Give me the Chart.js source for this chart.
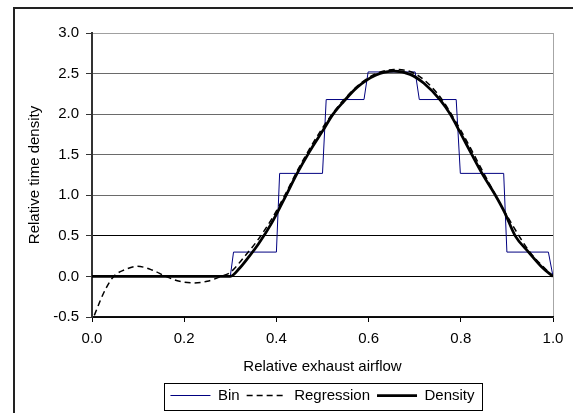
<!DOCTYPE html>
<html>
<head>
<meta charset="utf-8">
<script src="https://cdn.jsdelivr.net/npm/chart.js@4.4.0/dist/chart.umd.min.js"></script>
<style>
body { margin: 0; background: #fff; }
#frame { position: absolute; left: 13px; top: 7px; width: 600px; height: 450px; border-left: 2px solid #222; border-top: 2px solid #222; }
#myChart { position: absolute; left: 0; top: 0; }
</style>
</head>
<body>
<div id="frame"></div>
<canvas id="myChart" width="573" height="413"></canvas>
<script>
// step histogram (bins of 0.1)
var binX = [0, 0.300, 0.307, 0.400, 0.407, 0.500, 0.508, 0.590, 0.599, 0.701, 0.710, 0.790, 0.799, 0.893, 0.900, 0.990, 1.000];
var binY = [0, 0, 0.30, 0.30, 1.27, 1.27, 2.18, 2.18, 2.52, 2.52, 2.18, 2.18, 1.27, 1.27, 0.30, 0.30, 0];

// polynomial regression (dashed)
var regX = [0.005, 0.02, 0.03, 0.047, 0.07, 0.098, 0.13, 0.16, 0.19, 0.22, 0.25, 0.28, 0.30, 0.33, 0.361, 0.39, 0.421, 0.445, 0.50, 0.545, 0.60, 0.655, 0.70, 0.75, 0.80, 0.85, 0.90, 0.95, 1.0];
var regY = [-0.48, -0.27, -0.15, 0.0, 0.08, 0.125, 0.08, 0.0, -0.06, -0.08, -0.06, 0.0, 0.05, 0.24, 0.46, 0.71, 1.03, 1.3, 1.83, 2.17, 2.45, 2.55, 2.5, 2.25, 1.8, 1.27, 0.75, 0.3, 0.0];

// density curve
var denX = [0, 0.30, 0.32, 0.34, 0.361, 0.39, 0.421, 0.445, 0.47, 0.501, 0.523, 0.545, 0.575, 0.615, 0.655, 0.69, 0.72, 0.756, 0.777, 0.80, 0.824, 0.846, 0.875, 0.895, 0.918, 0.947, 0.975, 1.0];
var denY = [0, 0, 0.10, 0.24, 0.40, 0.66, 1.00, 1.27, 1.52, 1.80, 2.00, 2.15, 2.33, 2.48, 2.53, 2.49, 2.38, 2.17, 2.00, 1.76, 1.50, 1.27, 1.00, 0.79, 0.50, 0.30, 0.12, 0];

var seriesNames = ['Bin', 'Regression', 'Density'];
var xTitle = 'Relative exhaust airflow';
var yTitle = 'Relative time density';

function pts(xs, ys) {
    return xs.map(function(x, i) { return {x: x, y: ys[i]}; });
}

var fontFam = '"Liberation Sans", Arial, sans-serif';

// box round the legend, like the original
var legendBox = {
    id: 'legendBox',
    afterDraw: function(chart) {
        var lg = chart.legend;
        var hb = lg.legendHitBoxes;
        if (!hb || !hb.length) return;
        var first = hb[0], last = hb[hb.length - 1];
        var l = Math.round(first.left) - 5.5;
        var r = Math.round(last.left + last.width) + 7.5;
        var t = Math.round(lg.top) + 2.5;
        var b = Math.round(lg.bottom) - 2.5;
        var c = chart.ctx;
        c.save();
        c.strokeStyle = '#000';
        c.lineWidth = 1;
        c.strokeRect(l, t, r - l, b - t);
        c.restore();
    }
};

var ctx = document.getElementById('myChart').getContext('2d');

var myChart = new Chart(ctx, {
    type: 'line',
    data: {
        datasets: [{
            label: seriesNames[0],
            data: pts(binX, binY),
            borderColor: '#000080',
            backgroundColor: '#000080',
            borderWidth: 1,
            pointRadius: 0,
            tension: 0,
            order: 2
        }, {
            label: seriesNames[1],
            data: pts(regX, regY),
            borderColor: '#000',
            backgroundColor: '#000',
            borderWidth: 1.5,
            borderDash: [6, 4],
            pointRadius: 0,
            cubicInterpolationMode: 'monotone',
            order: 1
        }, {
            label: seriesNames[2],
            data: pts(denX, denY),
            borderColor: '#000',
            backgroundColor: '#000',
            borderWidth: 2.75,
            pointRadius: 0,
            cubicInterpolationMode: 'monotone',
            order: 0
        }]
    },
    options: {
        responsive: false,
        animation: false,
        layout: { padding: { left: 14, top: 33, right: 20, bottom: 0 } },
        plugins: {
            tooltip: { enabled: false },
            legend: {
                position: 'bottom',
                fullSize: false,
                labels: {
                    usePointStyle: true,
                    pointStyle: 'line',
                    pointStyleWidth: 40,
                    padding: 7,
                    color: '#000',
                    font: { family: fontFam, size: 15 },
                    sort: function(a, b) { return a.datasetIndex - b.datasetIndex; },
                    generateLabels: function(chart) {
                        var items = Chart.defaults.plugins.legend.labels.generateLabels(chart);
                        items.forEach(function(it) {
                            var ds = chart.data.datasets[it.datasetIndex];
                            it.lineDash = ds.borderDash || [];
                            it.lineWidth = ds.borderWidth;
                            it.strokeStyle = ds.borderColor;
                        });
                        return items;
                    }
                }
            }
        },
        scales: {
            x: {
                type: 'linear',
                min: 0,
                max: 1,
                afterFit: function(s) { s.height = 64; },
                ticks: {
                    stepSize: 0.2,
                    padding: 8,
                    color: '#000',
                    font: { family: fontFam, size: 15 },
                    callback: function(v) { return v.toFixed(1); }
                },
                grid: {
                    drawOnChartArea: true,
                    tickLength: 5,
                    tickColor: '#000',
                    color: function(c) {
                        return (c.tick && Math.abs(c.tick.value - 1) < 1e-6) ? '#a6a6a6' : 'rgba(0,0,0,0)';
                    }
                },
                border: { color: '#111', width: 1.5 },
                title: {
                    display: true,
                    text: xTitle,
                    color: '#000',
                    font: { family: fontFam, size: 15 },
                    padding: { top: 0, bottom: 5 }
                }
            },
            y: {
                min: -0.5,
                max: 3,
                afterFit: function(s) { s.width = 78; },
                ticks: {
                    stepSize: 0.5,
                    padding: 7,
                    color: '#000',
                    font: { family: fontFam, size: 15 },
                    callback: function(v) { return v.toFixed(1); }
                },
                grid: {
                    tickLength: 6,
                    tickColor: '#333',
                    color: function(c) {
                        var v = c.tick ? c.tick.value : 0;
                        if (v > 2.99) return '#a0a0a0';
                        if (v > 0.75) return '#6a6a6a';
                        return '#000';
                    }
                },
                border: { color: '#333', width: 2 },
                title: {
                    display: true,
                    text: yTitle,
                    color: '#000',
                    font: { family: fontFam, size: 15 },
                    padding: { top: 12, bottom: 0 }
                }
            }
        }
    },
    plugins: [legendBox]
});
</script>
</body>
</html>
